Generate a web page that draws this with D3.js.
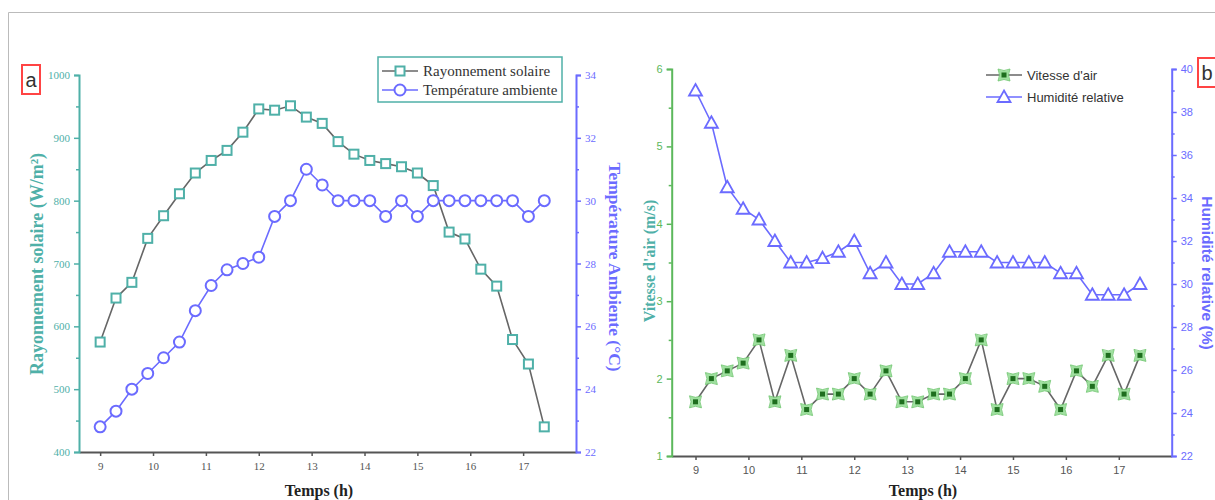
<!DOCTYPE html>
<html>
<head>
<meta charset="utf-8">
<script src="https://cdn.jsdelivr.net/npm/d3@7/dist/d3.min.js"></script>
<style>
  body { margin: 0; background: #fff; }
  svg { display: block; }
</style>
</head>
<body>
<script>
// hours of the measurements (same for both panels)
var hours = [9.0, 9.3, 9.6, 9.9, 10.2, 10.5, 10.8, 11.1, 11.4, 11.7, 12.0, 12.3, 12.6, 12.9, 13.2,
             13.5, 13.8, 14.1, 14.4, 14.7, 15.0, 15.3, 15.6, 15.9, 16.2, 16.5, 16.8, 17.1, 17.4];

// panel a
var rayonnement = [575, 645, 670, 740, 776, 811, 844, 864, 880, 909, 946, 944, 951, 933, 923,
                   894, 874, 864, 859, 854, 844, 824, 750, 739, 691, 664, 579, 540, 440];
var temperature = [22.8, 23.3, 24.0, 24.5, 25.0, 25.5, 26.5, 27.3, 27.8, 28.0, 28.2, 29.5, 30.0, 31.0, 30.5,
                   30.0, 30.0, 30.0, 29.5, 30.0, 29.5, 30.0, 30.0, 30.0, 30.0, 30.0, 30.0, 29.5, 30.0];

// panel b
var vitesse = [1.7, 2.0, 2.1, 2.2, 2.5, 1.7, 2.3, 1.6, 1.8, 1.8, 2.0, 1.8, 2.1, 1.7, 1.7,
               1.8, 1.8, 2.0, 2.5, 1.6, 2.0, 2.0, 1.9, 1.6, 2.1, 1.9, 2.3, 1.8, 2.3];
var humidite = [39.0, 37.5, 34.5, 33.5, 33.0, 32.0, 31.0, 31.0, 31.2, 31.5, 32.0, 30.5, 31.0, 30.0, 30.0,
                30.5, 31.5, 31.5, 31.5, 31.0, 31.0, 31.0, 31.0, 30.5, 30.5, 29.5, 29.5, 29.5, 30.0];

var xTicks = [9, 10, 11, 12, 13, 14, 15, 16, 17];
var rayTicks = [400, 500, 600, 700, 800, 900, 1000];
var tempTicks = [22, 24, 26, 28, 30, 32, 34];
var vitTicks = [1, 2, 3, 4, 5, 6];
var humTicks = [22, 24, 26, 28, 30, 32, 34, 36, 38, 40];

var TEAL = "#4fb0a8",
    BLUE = "#6b6bff",
    GREEN = "#5cb85c",
    GREY = "#666";

var svg = d3.select("body").append("svg")
    .attr("width", 1215)
    .attr("height", 500);

// thin frame of the figure
svg.append("path")
    .attr("d", "M8.5,500 V12.5 H1215")
    .attr("fill", "none")
    .attr("stroke", "#bbb")
    .attr("stroke-width", 1);

function minorValues(major) { // midpoints between major ticks
    var out = [];
    for (var i = 0; i < major.length - 1; i++) out.push((major[i] + major[i+1]) / 2);
    return out;
}

function drawAxis(g, axisGen, color, font, size) {
    g.call(axisGen);
    g.select(".domain").attr("stroke", color).attr("stroke-width", 2);
    g.selectAll(".tick line").attr("stroke", color).attr("stroke-width", 1.5);
    g.selectAll(".tick text")
        .attr("fill", color)
        .attr("font-family", font)
        .attr("font-size", size);
}

function panel(opt) {
    var x = d3.scaleLinear().domain(opt.xDomain).range(opt.xRange);
    var yL = d3.scaleLinear().domain(opt.leftDomain).range(opt.yRange);
    var yR = d3.scaleLinear().domain(opt.rightDomain).range(opt.yRange);
    var bottom = opt.yRange[0];
    var fmt = d3.format("d");

    // minor ticks
    svg.append("g").attr("transform", "translate(" + opt.xRange[0] + ",0)")
        .call(d3.axisLeft(yL).tickValues(minorValues(opt.leftTicks)).tickFormat("").tickSize(3))
        .call(function(g) {
            g.select(".domain").remove();
            g.selectAll("line").attr("stroke", opt.leftColor).attr("stroke-width", 1.5);
        });
    svg.append("g").attr("transform", "translate(" + opt.xRange[1] + ",0)")
        .call(d3.axisRight(yR).tickValues(minorValues(opt.rightTicks)).tickFormat("").tickSize(3))
        .call(function(g) {
            g.select(".domain").remove();
            g.selectAll("line").attr("stroke", opt.rightColor).attr("stroke-width", 1.5);
        });

    drawAxis(svg.append("g").attr("transform", "translate(0," + bottom + ")"),
        d3.axisBottom(x).tickValues(xTicks).tickFormat(fmt).tickSize(4).tickSizeOuter(0).tickPadding(6),
        "#555", opt.tickFont, 11);
    drawAxis(svg.append("g").attr("transform", "translate(" + opt.xRange[0] + ",0)"),
        d3.axisLeft(yL).tickValues(opt.leftTicks).tickFormat(fmt).tickSize(5).tickSizeOuter(5).tickPadding(4),
        opt.leftColor, opt.tickFont, 11);
    drawAxis(svg.append("g").attr("transform", "translate(" + opt.xRange[1] + ",0)"),
        d3.axisRight(yR).tickValues(opt.rightTicks).tickFormat(fmt).tickSize(5).tickSizeOuter(5).tickPadding(4),
        opt.rightColor, opt.tickFont, 11);

    // lines
    var lineL = d3.line().x(function(d, i) { return x(hours[i]); }).y(function(d) { return yL(d); });
    var lineR = d3.line().x(function(d, i) { return x(hours[i]); }).y(function(d) { return yR(d); });
    svg.append("path").datum(opt.leftData).attr("d", lineL)
        .attr("fill", "none").attr("stroke", opt.leftLine).attr("stroke-width", 1.6);
    svg.append("path").datum(opt.rightData).attr("d", lineR)
        .attr("fill", "none").attr("stroke", opt.rightLine).attr("stroke-width", 1.6);

    // markers
    opt.leftMarker(svg.append("g").selectAll("g").data(opt.leftData).enter().append("g")
        .attr("transform", function(d, i) { return "translate(" + x(hours[i]) + "," + yL(d) + ")"; }));
    opt.rightMarker(svg.append("g").selectAll("g").data(opt.rightData).enter().append("g")
        .attr("transform", function(d, i) { return "translate(" + x(hours[i]) + "," + yR(d) + ")"; }));

    // axis titles
    svg.append("text")
        .attr("transform", "translate(" + opt.leftTitle.x + "," + opt.leftTitle.y + ") rotate(-90)")
        .attr("text-anchor", "middle")
        .attr("fill", opt.leftTitle.color)
        .attr("font-family", opt.leftTitle.font)
        .attr("font-weight", "bold")
        .attr("font-size", opt.leftTitle.size)
        .text(opt.leftTitle.text);
    svg.append("text")
        .attr("transform", "translate(" + opt.rightTitle.x + "," + opt.rightTitle.y + ") rotate(90)")
        .attr("text-anchor", "middle")
        .attr("fill", opt.rightTitle.color)
        .attr("font-family", opt.rightTitle.font)
        .attr("font-weight", "bold")
        .attr("font-size", opt.rightTitle.size)
        .text(opt.rightTitle.text);
    svg.append("text")
        .attr("x", opt.xTitleX)
        .attr("y", 496)
        .attr("text-anchor", "middle")
        .attr("fill", "#222")
        .attr("font-family", "Liberation Serif")
        .attr("font-weight", "bold")
        .attr("font-size", 16)
        .text("Temps (h)");
}

function squareMarker(sel) {
    sel.append("rect").attr("x", -4.5).attr("y", -4.5).attr("width", 9).attr("height", 9)
        .attr("fill", "#fff").attr("stroke", TEAL).attr("stroke-width", 2);
}
function circleMarker(sel) {
    sel.append("circle").attr("r", 5.5)
        .attr("fill", "#fff").attr("stroke", BLUE).attr("stroke-width", 2);
}
function triangleMarker(sel) {
    sel.append("path").attr("d", "M0,-6.5 L6.5,5 L-6.5,5 Z")
        .attr("fill", "#fff").attr("stroke", BLUE).attr("stroke-width", 1.8);
}
function windMarker(sel) {
    sel.append("path").attr("d", "M-6,-6 Q0,-3 6,-6 Q3,0 6,6 Q0,3 -6,6 Q-3,0 -6,-6 Z")
        .attr("fill", "#9fe09f").attr("stroke", "#6cc46c").attr("stroke-width", 0.8);
    sel.append("rect").attr("x", -2.5).attr("y", -2.5).attr("width", 5).attr("height", 5)
        .attr("fill", "#1e6e1e");
}

panel({
    xDomain: [8.6, 18.0], xRange: [79, 576],
    yRange: [452, 75],
    leftDomain: [400, 1000], rightDomain: [22, 34],
    leftTicks: rayTicks, rightTicks: tempTicks,
    leftColor: TEAL, rightColor: BLUE,
    tickFont: "Liberation Serif",
    leftData: rayonnement, rightData: temperature,
    leftLine: GREY, rightLine: BLUE,
    leftMarker: squareMarker, rightMarker: circleMarker,
    xTitleX: 319,
    leftTitle: {x: 43, y: 264, text: "Rayonnement solaire (W/m²)", color: TEAL, font: "Liberation Serif", size: 18},
    rightTitle: {x: 609, y: 267, text: "Température Ambiente (°C)", color: BLUE, font: "Liberation Serif", size: 17.5}
});

panel({
    xDomain: [8.55, 18.0], xRange: [671.7, 1171.7],
    yRange: [456, 69],
    leftDomain: [1, 6], rightDomain: [22, 40],
    leftTicks: vitTicks, rightTicks: humTicks,
    leftColor: GREEN, rightColor: BLUE,
    tickFont: "Liberation Sans",
    leftData: vitesse, rightData: humidite,
    leftLine: GREY, rightLine: BLUE,
    leftMarker: windMarker, rightMarker: triangleMarker,
    xTitleX: 923,
    leftTitle: {x: 655, y: 261, text: "Vitesse d'air (m/s)", color: TEAL, font: "Liberation Serif", size: 16},
    rightTitle: {x: 1202, y: 273, text: "Humidité relative (%)", color: BLUE, font: "Liberation Sans", size: 15.5}
});

// legends
function legendRow(g, y, color, marker, label, font, size, x0) {
    g.append("line").attr("x1", x0).attr("x2", x0 + 36).attr("y1", y).attr("y2", y)
        .attr("stroke", color).attr("stroke-width", 1.6);
    marker(g.append("g").attr("transform", "translate(" + (x0 + 18) + "," + y + ")"));
    g.append("text").attr("x", x0 + 41).attr("y", y).attr("dy", "0.35em")
        .attr("fill", "#333").attr("font-family", font).attr("font-size", size)
        .text(label);
}

var legA = svg.append("g");
legA.append("rect").attr("x", 378).attr("y", 57).attr("width", 184).attr("height", 45)
    .attr("fill", "#fff").attr("stroke", TEAL).attr("stroke-width", 1.5);
legendRow(legA, 71, GREY, squareMarker, "Rayonnement solaire", "Liberation Serif", 15, 382);
legendRow(legA, 90, BLUE, circleMarker, "Température ambiente", "Liberation Serif", 15, 382);

var legB = svg.append("g");
legendRow(legB, 75, GREY, windMarker, "Vitesse d'air", "Liberation Sans", 13, 986);
legendRow(legB, 97, BLUE, triangleMarker, "Humidité relative", "Liberation Sans", 13, 986);

// panel letters
function letter(x, y, w, h, t) {
    svg.append("rect").attr("x", x).attr("y", y).attr("width", w).attr("height", h)
        .attr("fill", "#fff").attr("stroke", "#f44").attr("stroke-width", 2);
    svg.append("text").attr("x", x + w / 2).attr("y", y + h / 2).attr("dy", "0.35em")
        .attr("text-anchor", "middle").attr("fill", "#333")
        .attr("font-family", "Liberation Sans").attr("font-size", 20)
        .text(t);
}
letter(22, 65, 18, 29, "a");
letter(1198, 58, 18, 29, "b");
</script>
</body>
</html>
